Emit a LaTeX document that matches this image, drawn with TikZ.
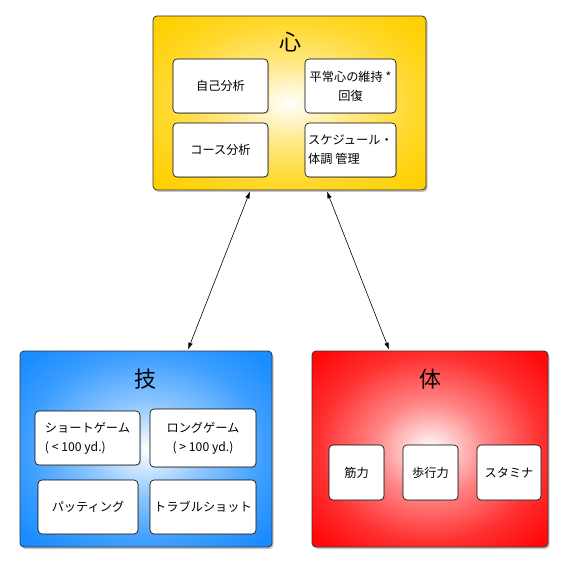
\documentclass[tikz,border=0pt]{standalone}
\usepackage{fontspec}
\setmainfont{Noto Sans CJK JP}
\usetikzlibrary{arrows.meta,shadows}
\definecolor{gold}{RGB}{255,208,0}
\definecolor{skyb}{RGB}{25,140,255}
\definecolor{redd}{RGB}{255,10,10}
\pgfdeclareradialshading{goldshade}{\pgfpoint{0bp}{0bp}}{color(0bp)=(white); color(12bp)=(gold!50!white); color(24bp)=(gold!85!white); color(33bp)=(gold); color(100bp)=(gold)}
\pgfdeclareradialshading{blueshade}{\pgfpoint{0bp}{0bp}}{color(0bp)=(white); color(12bp)=(skyb!50!white); color(24bp)=(skyb!85!white); color(33bp)=(skyb); color(100bp)=(skyb)}
\pgfdeclareradialshading{redshade}{\pgfpoint{0bp}{0bp}}{color(0bp)=(white); color(12bp)=(redd!50!white); color(24bp)=(redd!85!white); color(33bp)=(redd); color(100bp)=(redd)}
\begin{document}
\begin{tikzpicture}[x=1pt,y=-1pt,
  bigbox/.style={rectangle, rounded corners=4pt, draw=black!80, line width=0.8pt,
    drop shadow={opacity=0.45, shadow xshift=1.5pt, shadow yshift=-2pt}},
  smallbox/.style={rectangle, rounded corners=4pt, draw=black, line width=0.6pt, fill=white,
    font=\fontsize{12.2}{19}\selectfont, align=center, inner sep=1.5pt,
    drop shadow={opacity=0.3, shadow xshift=1pt, shadow yshift=-1pt}},
  title/.style={font=\fontsize{22}{24}\selectfont},
  link/.style={{Latex[length=7pt,width=4.5pt]}-{Latex[length=7pt,width=4.5pt]}, line width=0.6pt}
]
\useasboundingbox (0,0) rectangle (569,569);
% big boxes
\node[bigbox, minimum width=273pt, minimum height=174pt, shading=goldshade] (kokoro) at (289.5,103) {};
\node[bigbox, minimum width=252pt, minimum height=196pt, shading=blueshade] (waza) at (146,449) {};
\node[bigbox, minimum width=236pt, minimum height=196pt, shading=redshade] (karada) at (430,449) {};
% titles
\node[title] (t1) at (290,42) {心};
\node[title] (t2) at (145,379) {技};
\node[title] (t3) at (430,379) {体};
% inner top
\node[smallbox, minimum width=95pt, minimum height=54pt] (k1) at (220.5,86) {自己分析};
\node[smallbox, minimum width=91pt, minimum height=54pt] (k2) at (350.5,86) {平常心の維持 *\\回復};
\node[smallbox, minimum width=95pt, minimum height=54pt] (k3) at (220.5,150) {コース分析};
\node[smallbox, minimum width=91pt, minimum height=54pt, align=left] (k4) at (350.5,150) {スケジュール・\\体調 管理};
% inner left
\node[smallbox, minimum width=105pt, minimum height=54pt, align=left] (w1) at (87.5,438) {ショートゲーム\\( < 100 yd.)};
\node[smallbox, minimum width=106pt, minimum height=58pt] (w2) at (203,438) {ロングゲーム\\( > 100 yd.)};
\node[smallbox, minimum width=100pt, minimum height=54pt] (w3) at (88,507) {パッティング};
\node[smallbox, minimum width=106pt, minimum height=54pt] (w4) at (203,507) {トラブルショット};
% inner right
\node[smallbox, minimum width=55pt, minimum height=55pt] (r1) at (356.5,472.5) {筋力};
\node[smallbox, minimum width=55pt, minimum height=55pt] (r2) at (430.5,472.5) {歩行力};
\node[smallbox, minimum width=64pt, minimum height=55pt] (r3) at (509,472.5) {スタミナ};
% connectors
\draw[link] ([xshift=-39.5pt,yshift=-1pt]kokoro.south) -- ([xshift=42pt,yshift=1pt]waza.north);
\draw[link] ([xshift=37.5pt,yshift=-1pt]kokoro.south) -- ([xshift=-41pt,yshift=1pt]karada.north);
\end{tikzpicture}
\end{document}
